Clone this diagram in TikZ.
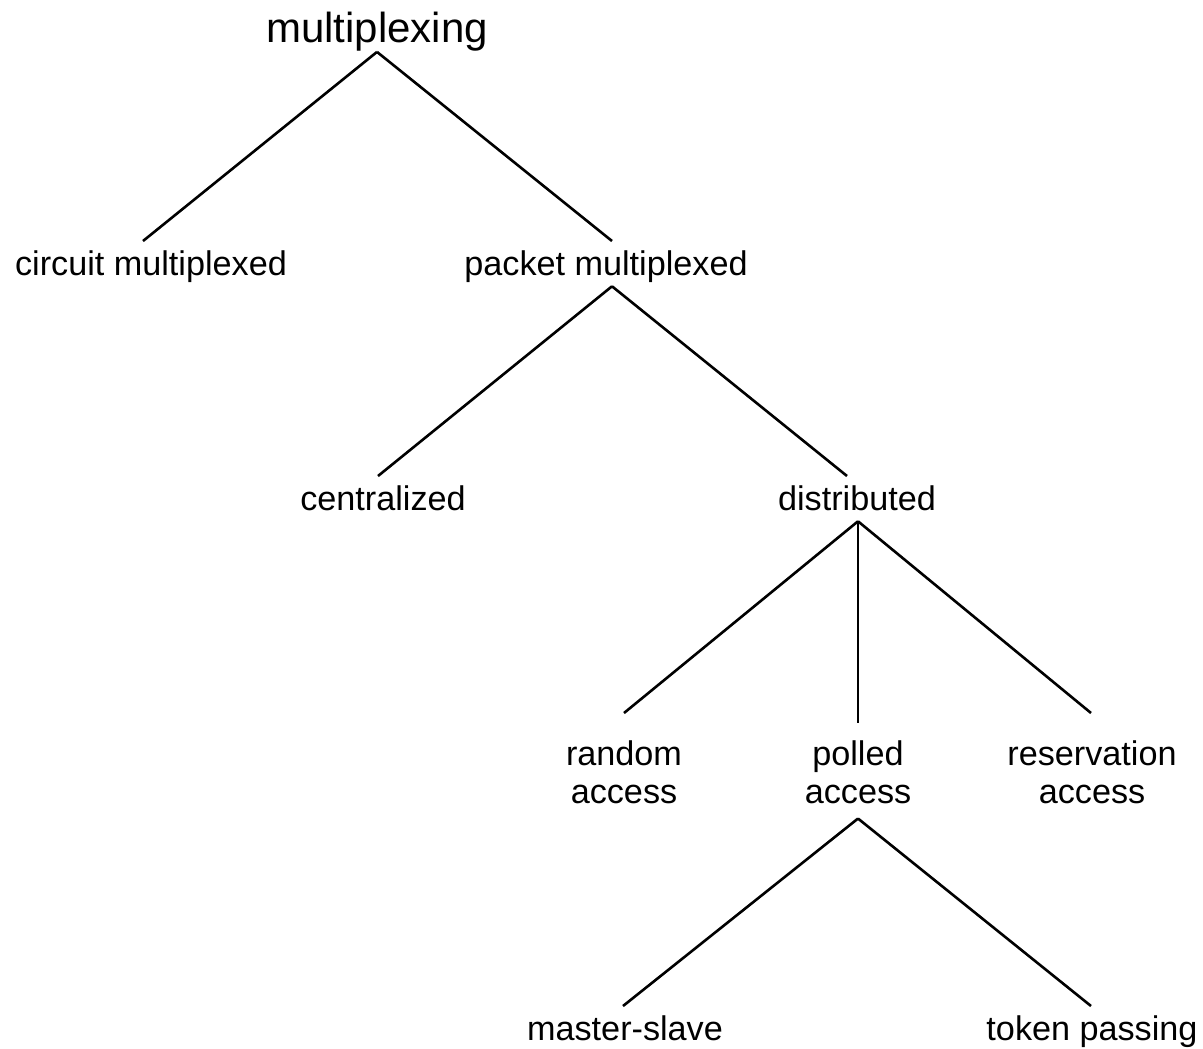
\documentclass[tikz,border=0pt]{standalone}
\usepackage{fontspec}
\setmainfont{Liberation Sans}
\begin{document}
\begin{tikzpicture}[x=1pt,y=-1pt,
  lab/.style={font=\fontsize{34.2}{38}\selectfont, inner sep=9pt, anchor=base, text depth=0.21em},
  mlab/.style={font=\fontsize{34.2}{38}\selectfont, inner sep=9pt, anchor=base, align=center},
  rootlab/.style={font=\fontsize{42}{48}\selectfont, inner sep=0pt, anchor=base},
  edge/.style={line width=2.6pt, line cap=butt}]
\useasboundingbox (0,0) rectangle (1203,1049);
\node[rootlab] (root) at (377,43) {multiplexing};
\node[lab] (circ) at (151,275) {circuit multiplexed};
\node[lab] (pack) at (606,275) {packet multiplexed};
\node[lab] (cent) at (383,510) {centralized};
\node[lab] (dist) at (857,510) {distributed};
\node[mlab] (rand) at (624,803) {random\\access};
\node[mlab] (poll) at (858,803) {polled\\access};
\node[mlab] (resv) at (1092,803) {reservation\vphantom{d}\\access};
\node[lab] (mast) at (625,1040) {master-slave};
\node[lab] (tok) at (1092,1040) {token passing};
\coordinate (randtop) at ([yshift=18pt]rand.north);
\coordinate (polltop) at ([yshift=8.5pt]poll.north);
\coordinate (resvtop) at ([yshift=18pt]resv.north);
\coordinate (pollbot) at ([yshift=-6pt]poll.south);
\draw[edge] (root.south) -- ([xshift=-8pt]circ.north);
\draw[edge] (root.south) -- ([xshift=6pt]pack.north);
\draw[edge] ([xshift=6pt]pack.south) -- ([xshift=-5pt]cent.north);
\draw[edge] ([xshift=6pt]pack.south) -- ([xshift=-10pt]dist.north);
\draw[edge] ([xshift=1pt]dist.south) -- (randtop);
\draw[edge] ([xshift=1pt]dist.south) -- (polltop);
\draw[edge] ([xshift=1pt]dist.south) -- ([xshift=-1pt]resvtop);
\draw[edge] (pollbot) -- ([xshift=-2pt]mast.north);
\draw[edge] (pollbot) -- ([xshift=-1pt]tok.north);
\end{tikzpicture}
\end{document}
